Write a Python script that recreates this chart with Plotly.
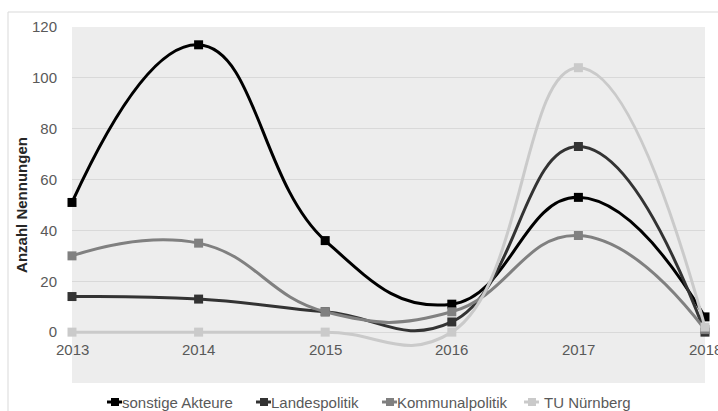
import plotly.graph_objects as go

years = [2013, 2014, 2015, 2016, 2017, 2018]
sonstige_akteure = [51, 113, 36, 11, 53, 6]
landespolitik = [14, 13, 8, 4, 73, 0]
kommunalpolitik = [30, 35, 8, 8, 38, 1]
tu_nuernberg = [0, 0, 0, 0, 104, 2]

series = [
    ("sonstige Akteure", sonstige_akteure, "#000000"),
    ("Landespolitik", landespolitik, "#333333"),
    ("Kommunalpolitik", kommunalpolitik, "#808080"),
    ("TU Nürnberg", tu_nuernberg, "#cacaca"),
]

W, H = 718, 411
L, R, T, B = 72, 13, 27, 28
plot_w = W - L - R
plot_h = H - T - B
y_min, y_max = -20, 120


def px_x(x):
    return (x - L) / plot_w


def px_y(y):
    return (H - B - y) / plot_h


fig = go.Figure()
for name, vals, color in series:
    fig.add_trace(go.Scatter(
        x=years, y=vals, name=name, mode="lines+markers",
        line=dict(color=color, width=3, shape="spline", smoothing=1.3),
        marker=dict(symbol="square", size=9, color=color),
        cliponaxis=False, showlegend=False,
    ))

fig.update_layout(
    width=W, height=H,
    margin=dict(l=L, r=R, t=T, b=B, autoexpand=False),
    paper_bgcolor="white",
    plot_bgcolor="#ededed",
    font=dict(family="Liberation Sans, Arial, sans-serif", size=15, color="#595959"),
    xaxis=dict(
        range=[2013, 2018], tickvals=years, showticklabels=False,
        showgrid=False, zeroline=False, showline=False, ticks="",
        automargin=False,
    ),
    yaxis=dict(
        range=[y_min, y_max], tickvals=[0, 20, 40, 60, 80, 100, 120],
        showgrid=True, gridcolor="#d9d9d9", gridwidth=1,
        zeroline=False, showline=False,
        ticks="outside", ticklen=11, tickcolor="rgba(0,0,0,0)",
        automargin=False,
        title=dict(text="<b>Anzahl Nennungen</b>",
                   font=dict(size=15, color="#262626"), standoff=0),
        tickfont=dict(size=15, color="#595959"),
    ),
    showlegend=False,
)

# category labels sit just below the zero line, where the axes cross
for yr in years:
    fig.add_annotation(text=str(yr), x=yr, y=0, xref="x", yref="y",
                       xanchor="center", yanchor="top", yshift=-7,
                       showarrow=False, font=dict(size=15, color="#595959"))

# light frame around the chart area
fig.add_shape(type="line", xref="paper", yref="paper",
              x0=px_x(8), x1=px_x(W), y0=px_y(12), y1=px_y(12),
              line=dict(color="#d9d9d9", width=1))
fig.add_shape(type="line", xref="paper", yref="paper",
              x0=px_x(8), x1=px_x(8), y0=px_y(12), y1=px_y(H),
              line=dict(color="#d9d9d9", width=1))

# legend row: short line with square marker, then the series name
legend_left = [107, 256, 382, 524]
legend_y = 402
for (name, vals, color), lx in zip(series, legend_left):
    fig.add_shape(type="line", xref="paper", yref="paper",
                  x0=px_x(lx), x1=px_x(lx + 15), y0=px_y(legend_y), y1=px_y(legend_y),
                  line=dict(color=color, width=3))
    fig.add_shape(type="rect", xref="paper", yref="paper",
                  x0=px_x(lx + 4), x1=px_x(lx + 12),
                  y0=px_y(legend_y + 4), y1=px_y(legend_y - 4),
                  line=dict(width=0), fillcolor=color)
    fig.add_annotation(text=name, xref="paper", yref="paper",
                       x=px_x(lx + 13 + (5 if name == "TU Nürnberg" else 0)),
                       y=px_y(legend_y), xanchor="left", yanchor="middle",
                       showarrow=False, font=dict(size=15, color="#595959"))

fig.write_html("out.html")
